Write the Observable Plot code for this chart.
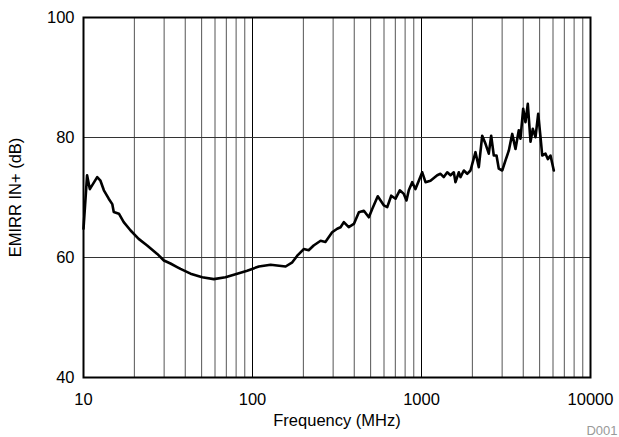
<!DOCTYPE html>
<html><head><meta charset="utf-8">
<script src="https://cdn.jsdelivr.net/npm/d3@7"></script>
<script src="https://cdn.jsdelivr.net/npm/@observablehq/plot@0.6"></script>
<style>body{margin:0;background:#fff}</style>
</head><body><div id="chart"></div>
<script>
// Frequency (MHz)
const freq = [10, 10.5, 10.9, 12.05, 12.6, 13.2, 14.1, 14.8, 15.1, 16.2, 17.3, 19.0, 21.2, 23.8, 27.3, 29.9, 32.7, 35.8, 37.5, 43, 50.4, 59, 69.2, 81.2, 93, 109, 128, 157, 172, 184, 201, 215, 230, 253, 270, 296, 317, 332, 347, 371, 398, 426, 456, 488, 511, 551, 598, 627, 662, 702, 744, 786, 815, 841, 881, 921, 964, 1010, 1056, 1130, 1239, 1296, 1355, 1420, 1485, 1553, 1589, 1662, 1701, 1780, 1864, 1949, 2087, 2183, 2287, 2392, 2502, 2584, 2678, 2779, 2867, 3003, 3141, 3285, 3441, 3599, 3764, 3852, 3997, 4124, 4256, 4416, 4557, 4727, 4903, 5061, 5180, 5417, 5590, 5798, 6065];
// EMIRR IN+ (dB)
const emirr = [64.8, 73.7, 71.4, 73.4, 72.8, 71.2, 69.8, 68.9, 67.6, 67.3, 65.9, 64.5, 63.1, 62.0, 60.6, 59.5, 59.0, 58.4, 58.1, 57.3, 56.7, 56.4, 56.7, 57.3, 57.8, 58.5, 58.8, 58.5, 59.2, 60.3, 61.4, 61.2, 62.0, 62.8, 62.6, 64.2, 64.8, 65.05, 65.9, 65.05, 65.6, 67.55, 67.8, 66.7, 68.1, 70.2, 68.7, 68.4, 70.3, 69.8, 71.2, 70.6, 69.5, 71.2, 72.55, 71.4, 72.8, 74.2, 72.55, 72.8, 73.7, 73.95, 73.4, 74.2, 73.7, 74.2, 72.55, 74.2, 73.4, 74.5, 73.95, 74.5, 77.55, 75.05, 80.3, 78.95, 77.3, 80.3, 77, 77, 74.8, 74.5, 76.2, 77.8, 80.6, 78.1, 81.2, 79.8, 84.8, 82.55, 85.6, 79.3, 81.45, 80.05, 83.95, 80.05, 77, 77.3, 76.4, 77, 74.5];
const xTicks = [10, 100, 1000, 10000];
const yTicks = [40, 60, 80, 100];
const minorX = [20, 30, 40, 50, 60, 70, 80, 90, 200, 300, 400, 500, 600, 700, 800, 900, 2000, 3000, 4000, 5000, 6000, 7000, 8000, 9000];
const majorX = [100, 1000];
const gridY = [60, 80];

const data = freq.map((f, i) => ({f, v: emirr[i]}));

const chart = Plot.plot({
  width: 619, height: 437,
  marginLeft: 83, marginRight: 29, marginTop: 17, marginBottom: 60,
  style: {fontFamily: "'Liberation Sans', Arial, sans-serif", fontSize: "16.5px", background: "#fff", color: "#000"},
  x: {type: "log", domain: [10, 10000]},
  y: {domain: [40, 100]},
  marks: [
    Plot.ruleX(minorX, {stroke: "#555", strokeWidth: 1}),
    Plot.ruleX(majorX, {stroke: "#000", strokeWidth: 1}),
    Plot.ruleY(gridY, {stroke: "#333", strokeWidth: 1}),
    Plot.line(data, {x: "f", y: "v", stroke: "#000", strokeWidth: 2.6, strokeLinejoin: "round"}),
    Plot.frame({stroke: "#000", strokeWidth: 2}),
    Plot.axisX({ticks: xTicks, tickSize: 0, tickPadding: 16, tickFormat: d => String(d), label: "Frequency (MHz)", labelAnchor: "center", labelOffset: 48, labelArrow: "none"}),
    Plot.axisY({ticks: yTicks, tickSize: 0, tickPadding: 9, tickFormat: d => String(d), label: "EMIRR IN+ (dB)", labelAnchor: "center", labelOffset: 74, labelArrow: "none"}),
    Plot.text(["D001"], {frameAnchor: "bottom-right", dx: 27, dy: 57, lineAnchor: "bottom", textAnchor: "end", fill: "#999", fontSize: 13})
  ]
});
document.getElementById("chart").appendChild(chart);
</script>
</body></html>
